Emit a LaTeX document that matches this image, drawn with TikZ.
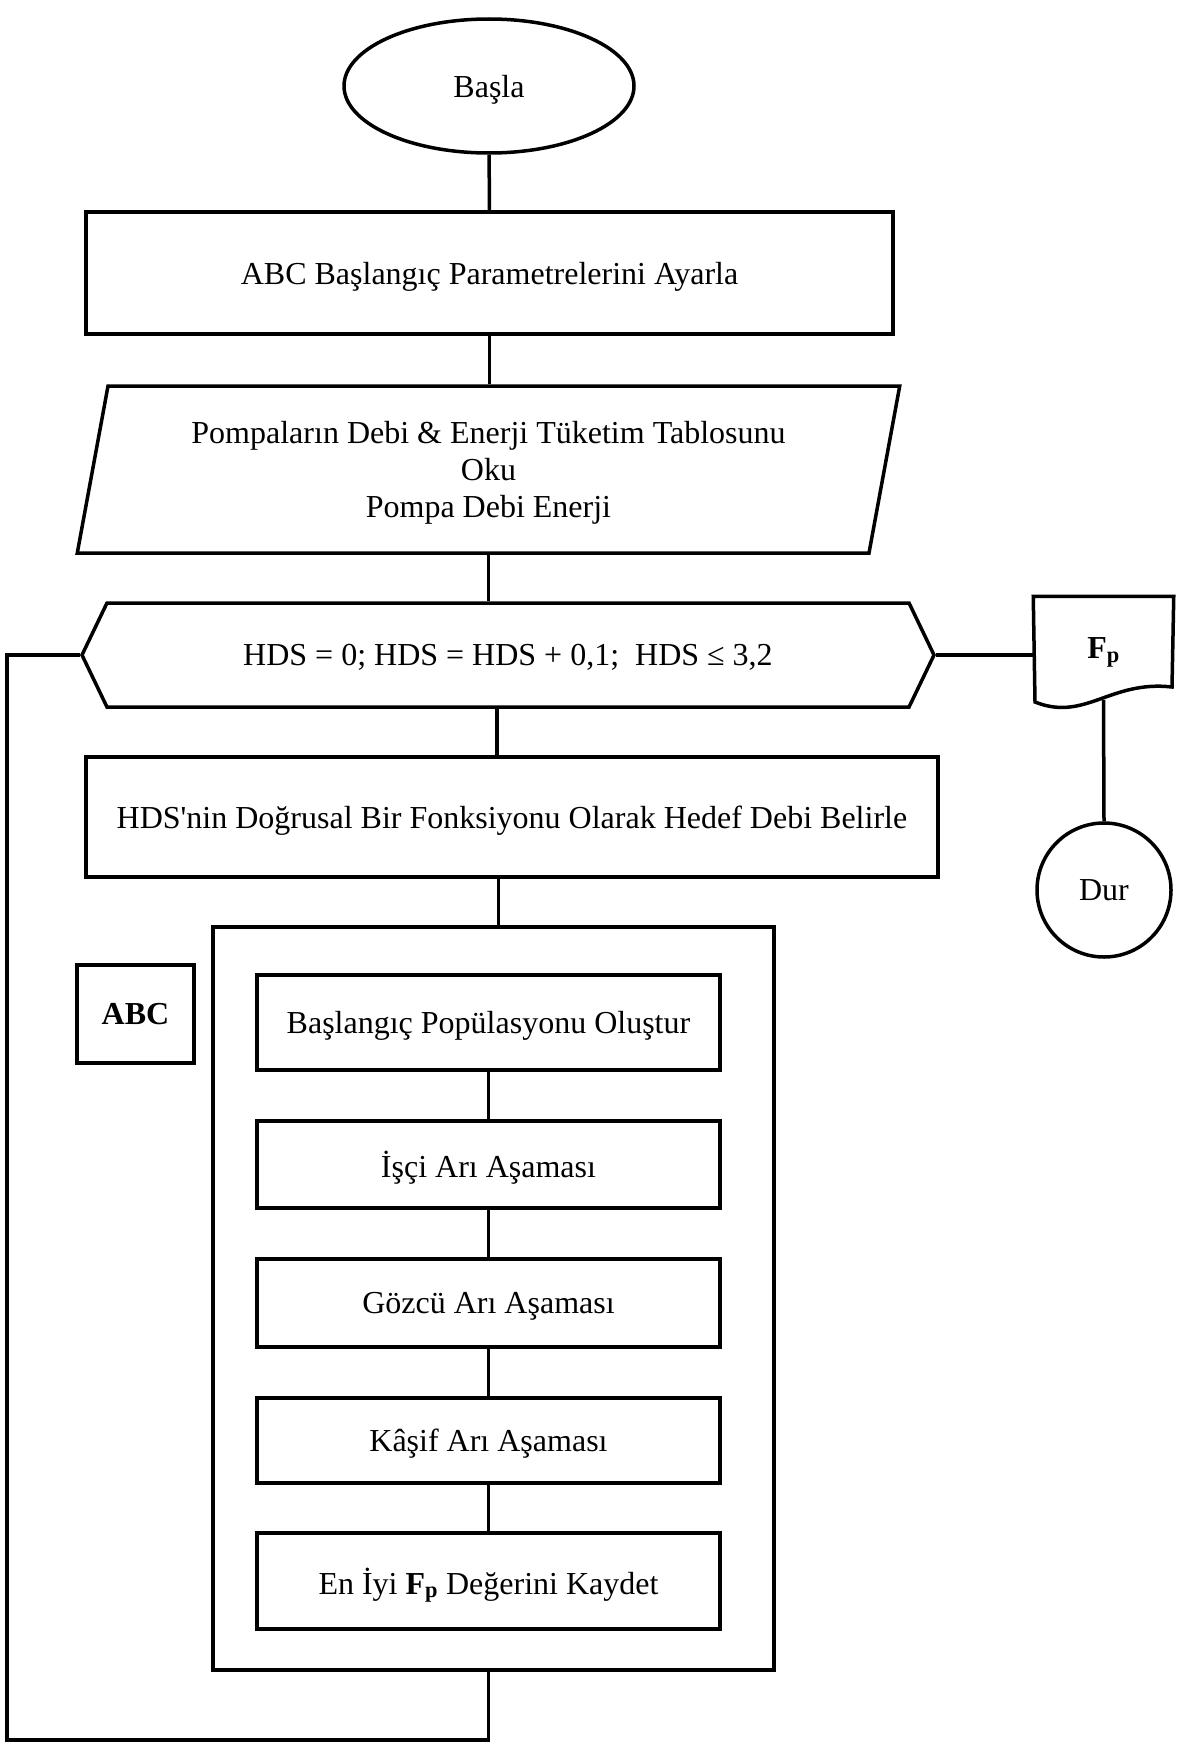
\documentclass[tikz,border=0pt]{standalone}
\usepackage{fontspec}
\setmainfont{Liberation Serif}
\usetikzlibrary{shapes.geometric,shapes.symbols}

\tikzset{
  flowline/.style={line width=3.5pt},
  base/.style={draw, line width=3.5pt, inner sep=0pt, align=center,
    text depth=0pt, font=\fontsize{32}{37}\selectfont},
  startstop/.style={base, ellipse},
  stopnode/.style={base, circle},
  process/.style={base, rectangle},
  io/.style={base, trapezium, trapezium left angle=76,
    trapezium right angle=104, trapezium stretches=true},
  loopbox/.style={base, signal, signal to=west and east,
    signal pointer angle=128.7},
  innerbox/.style={process, line width=4pt, minimum width=463pt},
}
\newcommand{\Fp}{\textbf{F\textsubscript{p}}}

\begin{document}
\begin{tikzpicture}[x=1pt, y=-1pt]
\useasboundingbox (0,0) rectangle (1188,1745);

% ana akis
\node[startstop, minimum width=290pt, minimum height=134pt] (start) at (489,86) {Başla};
\node[process, line width=4pt, minimum width=807pt, minimum height=122pt] (init) at (489.5,273) {ABC Başlangıç Parametrelerini Ayarla};
\node[io, minimum width=823pt, minimum height=167pt] (read) at (488.5,469.5)
  {Pompaların Debi \& Enerji Tüketim Tablosunu\\Oku\\Pompa Debi Enerji};
\node[loopbox, minimum width=852pt, minimum height=104pt] (loop) at (508,655)
  {HDS = 0; HDS = HDS + 0,1;~ HDS ≤ 3,2};
\node[process, line width=4pt, minimum width=852pt, minimum height=120pt] (target) at (512,817)
  {HDS\textquotesingle nin Doğrusal Bir Fonksiyonu Olarak Hedef Debi Belirle};

% cikti ve dur
\node[base, draw=none, minimum width=137pt, minimum height=100pt] (fp) at (1103.5,648) {\Fp};
\draw[flowline] (fp.north west) -- (fp.north east) -- (1172,687)
  .. controls (1110,680) and (1085,722) .. (1035,702) -- cycle;
\node[stopnode, minimum size=134pt] (dur) at (1104,890) {Dur};

% ABC blogu
\node[process, minimum width=561pt, minimum height=743pt] (abcframe) at (493.5,1298.5) {};
\node[process, line width=4pt, minimum width=117pt, minimum height=98pt,
  font=\bfseries\fontsize{32}{37}\selectfont] (abclabel) at (135.5,1014) {ABC};
\node[innerbox, minimum height=95pt] (pop) at (488.5,1022.5) {Başlangıç Popülasyonu Oluştur};
\node[innerbox, minimum height=87pt] (worker) at (488.5,1164.5) {İşçi Arı Aşaması};
\node[innerbox, minimum height=88pt] (onlooker) at (488.5,1303) {Gözcü Arı Aşaması};
\node[innerbox, minimum height=85pt] (scout) at (488.5,1440.5) {Kâşif Arı Aşaması};
\node[innerbox, minimum height=96pt] (best) at (488.5,1581) {En İyi \Fp{} Değerini Kaydet};

% baglantilar
\draw[flowline] (start) -- (init);
\draw[flowline] (init.south) -- (init.south |- read.north);
\draw[flowline] (read.south) -- (read.south |- loop.north);
\draw[flowline] (loop.east) -- (loop.east -| fp.west);
\draw[flowline] (fp.south) -- (dur.north);
\draw[flowline] ([xshift=-11pt]loop.south) -- ([xshift=-11pt]loop.south |- target.north);
\draw[flowline] ([xshift=5pt]target.south -| abcframe.north) -- ([xshift=5pt]abcframe.north);
\foreach \a/\b in {pop/worker, worker/onlooker, onlooker/scout, scout/best}
  \draw[flowline] (\a) -- (\b);

% geri donus
\coordinate (back) at (7,1740);
\draw[flowline] (best.south |- abcframe.south) |- (back) |- (loop.west);
\end{tikzpicture}
\end{document}
